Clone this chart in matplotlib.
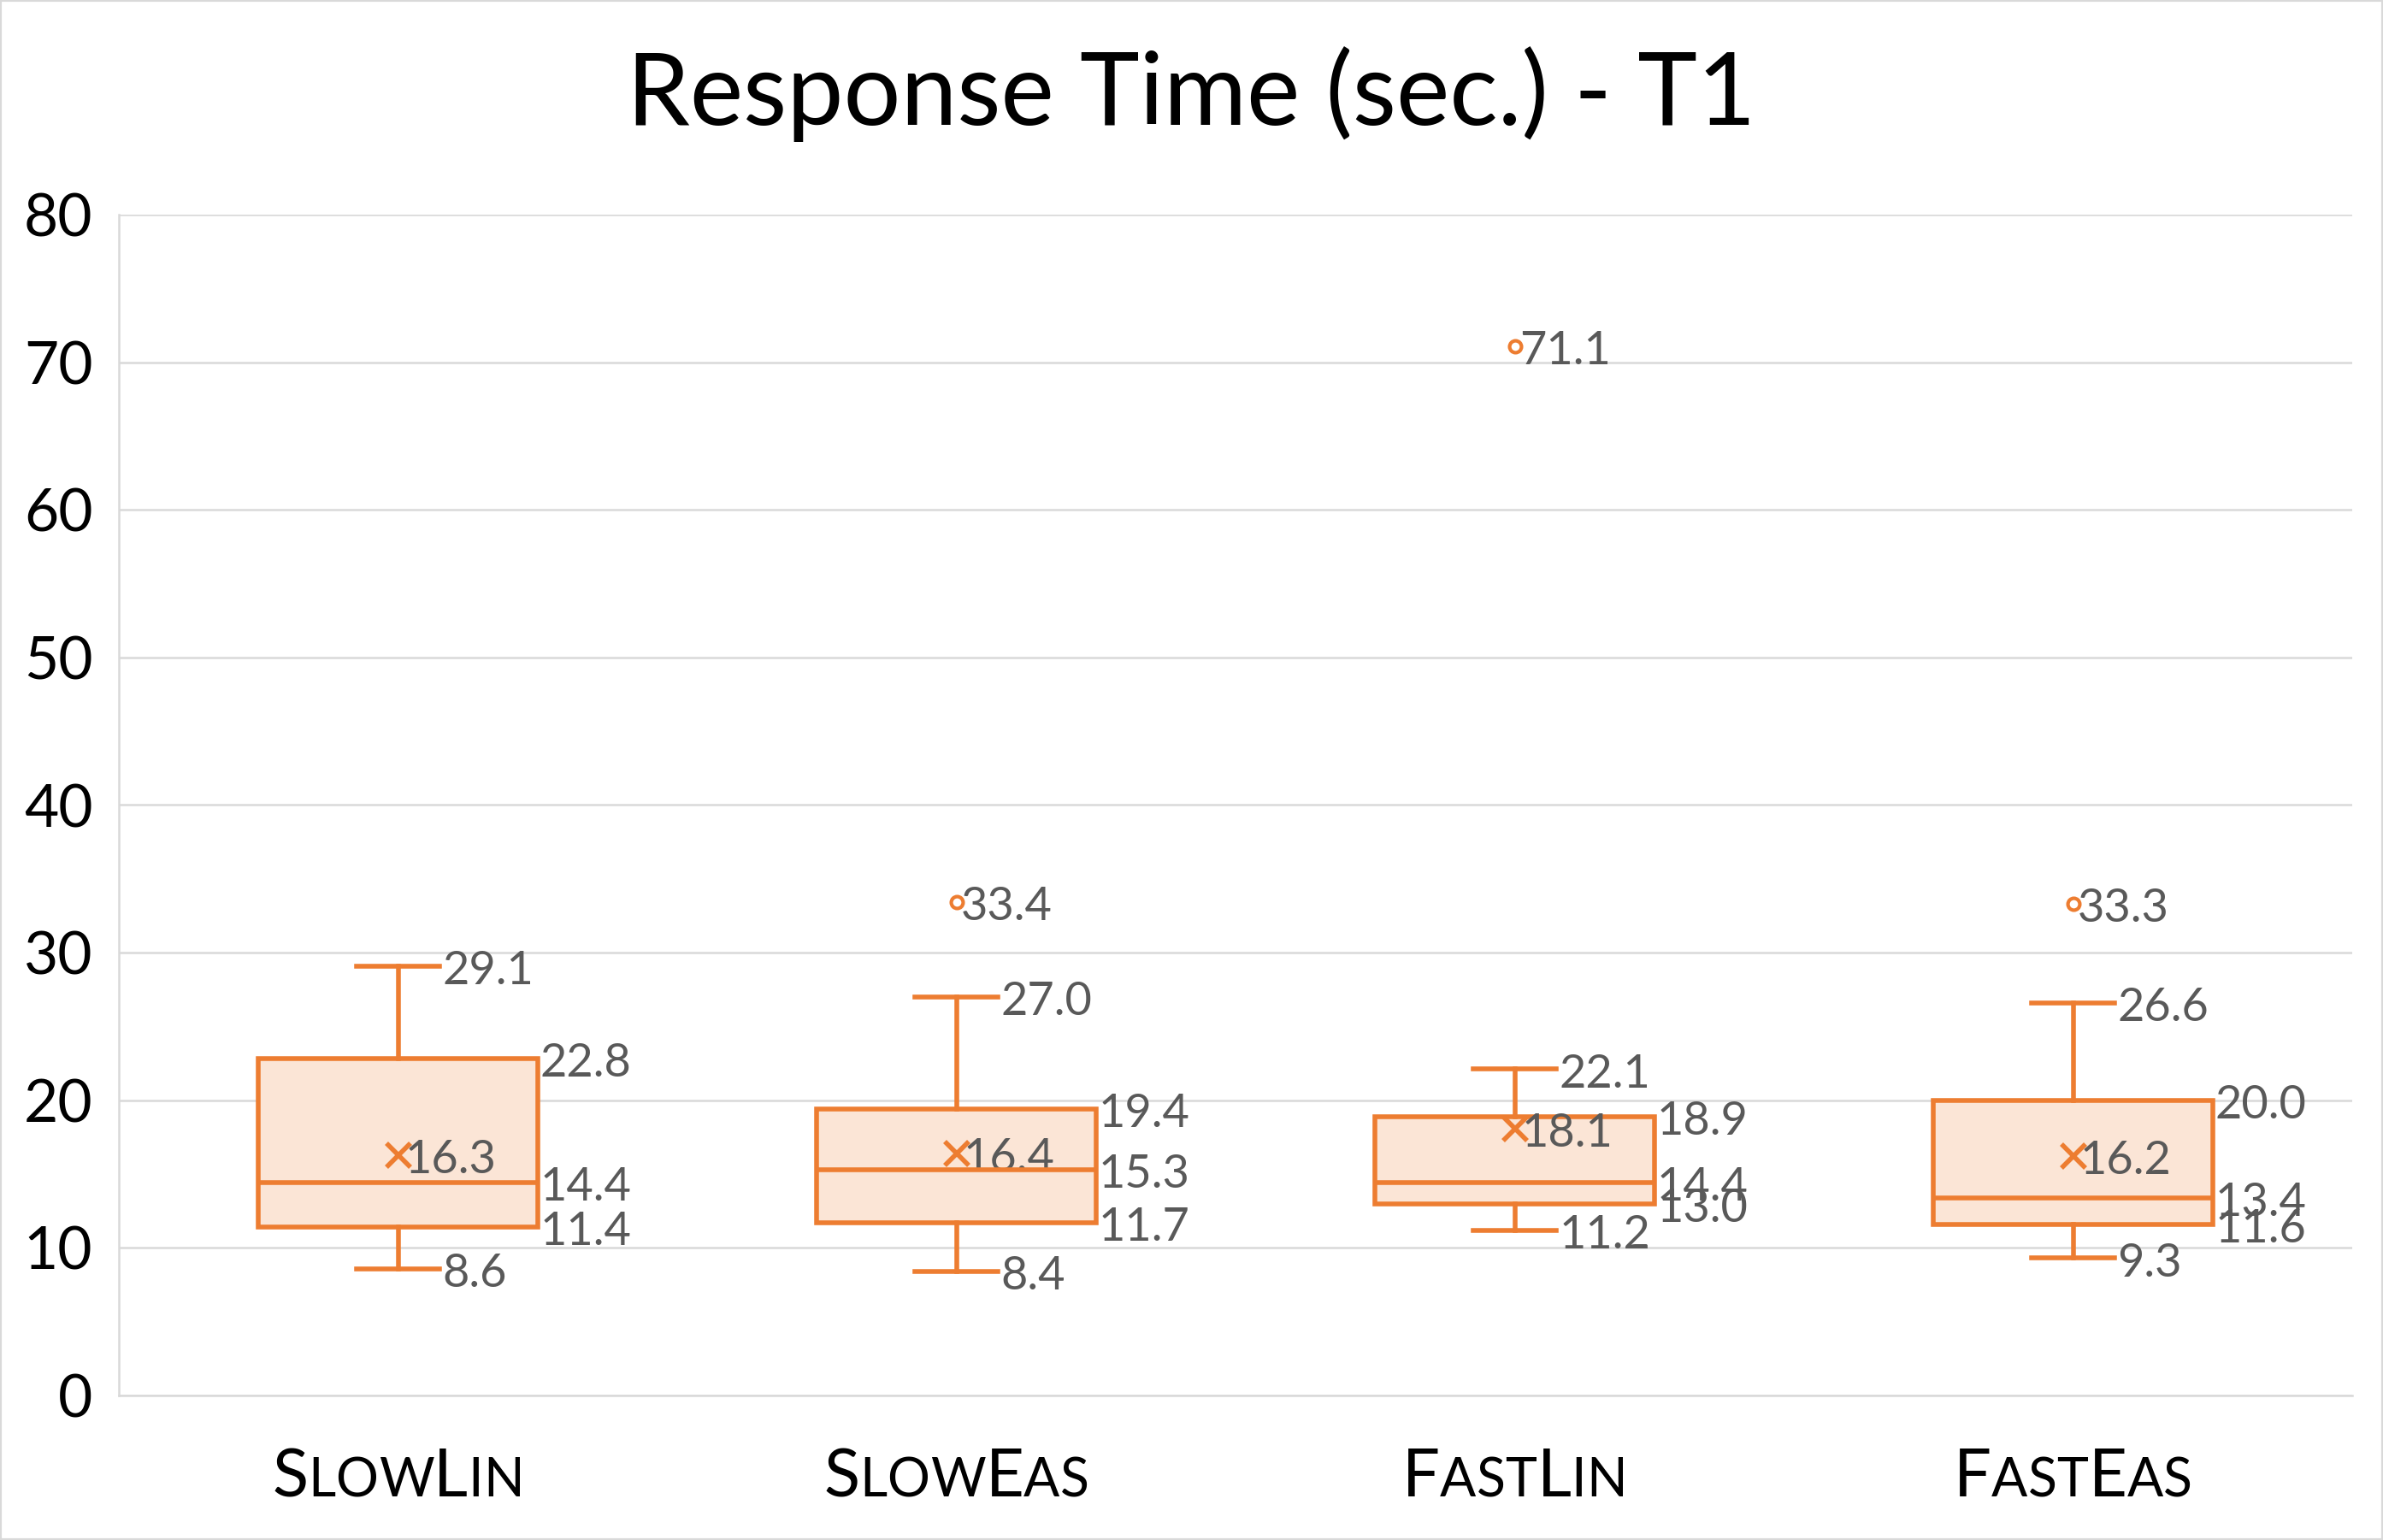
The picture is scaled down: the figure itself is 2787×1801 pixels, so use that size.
import matplotlib
matplotlib.use("Agg")
import matplotlib.pyplot as plt
from matplotlib.patches import Rectangle
from matplotlib.transforms import IdentityTransform

plt.rcParams['font.family'] = ['Lato', 'DejaVu Sans']

categories = ["SlowLin", "SlowEas", "FastLin", "FastEas"]
whislo = [8.6, 8.4, 11.2, 9.3]
q1 = [11.4, 11.7, 13.0, 11.6]
med = [14.4, 15.3, 14.4, 13.4]
q3 = [22.8, 19.4, 18.9, 20.0]
whishi = [29.1, 27.0, 22.1, 26.6]
means = [16.3, 16.4, 18.1, 16.2]
outliers = [[], [33.4], [71.1], [33.3]]

orange = '#ED7D31'
fill = '#FBE5D6'
gray_txt = '#595959'
grid_c = '#D9D9D9'

W, H = 2787, 1801
fig = plt.figure(figsize=(W / 100, H / 100), dpi=100)
ax = fig.add_axes([139 / W, 1 - 1632 / H, (2751 - 139) / W, (1632 - 251) / H])

stats = []
for i in range(len(categories)):
    stats.append(dict(whislo=whislo[i], q1=q1[i], med=med[i], q3=q3[i],
                      whishi=whishi[i], mean=means[i], fliers=outliers[i]))

pos = list(range(len(categories)))
ax.bxp(stats, positions=pos, widths=0.5, capwidths=0.15, patch_artist=True,
       showmeans=True, zorder=3,
       boxprops=dict(facecolor=fill, edgecolor=orange, linewidth=4),
       medianprops=dict(color=orange, linewidth=4),
       whiskerprops=dict(color=orange, linewidth=4),
       capprops=dict(color=orange, linewidth=4),
       meanprops=dict(marker='x', markeredgecolor=orange, markersize=20, markeredgewidth=4),
       flierprops=dict(marker='o', markerfacecolor='none', markeredgecolor=orange,
                       markersize=10, markeredgewidth=3))

ax.set_xlim(-0.5, 3.5)
ax.set_ylim(0, 80)
ax.set_yticks(range(0, 81, 10))
ax.yaxis.grid(True, color=grid_c, linewidth=1.8, zorder=0)
ax.set_axisbelow(True)
ax.tick_params(axis='y', length=0, labelsize=50, pad=22, labelcolor='black')
ax.tick_params(axis='x', length=0, labelbottom=False)
for s in ['top', 'right']:
    ax.spines[s].set_visible(False)
ax.spines['left'].set_color(grid_c)
ax.spines['left'].set_linewidth(1.8)
ax.spines['bottom'].set_color(grid_c)
ax.spines['bottom'].set_linewidth(1.8)

lab = dict(fontsize=39, color=gray_txt, va='center', ha='left')
for i in range(len(categories)):
    # whisker ends
    for v in (whishi[i], whislo[i]):
        ax.annotate(f"{v:.1f}", (i + 0.075, v), xytext=(2, -4), textcoords='offset points', **lab)
    # box values
    for v in (q3[i], med[i], q1[i]):
        ax.annotate(f"{v:.1f}", (i + 0.25, v), xytext=(2, -4), textcoords='offset points', **lab)
    ax.annotate(f"{means[i]:.1f}", (i, means[i]), xytext=(6, -4), textcoords='offset points', **lab)
    for v in outliers[i]:
        ax.annotate(f"{v:.1f}", (i, v), xytext=(4, -4), textcoords='offset points', **lab)

fig.text(0.5, 1 - 62 / 1013, "Response Time (sec.) - T1", fontsize=85,
         ha='center', va='center', color='black')

# small caps category labels
fig.canvas.draw()
renderer = fig.canvas.get_renderer()
big, small = 56, 45
y_base = H - 1750
for i, word in enumerate(categories):
    cx = ax.transData.transform((i, 0))[0]
    pieces = []
    for ch in word:
        if ch.isupper():
            pieces.append((ch, big))
        else:
            pieces.append((ch.upper(), small))
    texts = []
    for ch, sz in pieces:
        t = fig.text(0, y_base, ch, fontsize=sz, transform=IdentityTransform(),
                     va='baseline', ha='left', color='black')
        texts.append(t)
    widths = [t.get_window_extent(renderer).width for t in texts]
    x = cx - sum(widths) / 2
    for t, w in zip(texts, widths):
        t.set_x(x)
        x += w

fig.patches.append(Rectangle((0, 0), 1, 1, transform=fig.transFigure, fill=False,
                             edgecolor='#D9D9D9', linewidth=3))

fig.savefig("out.png", dpi=100)
